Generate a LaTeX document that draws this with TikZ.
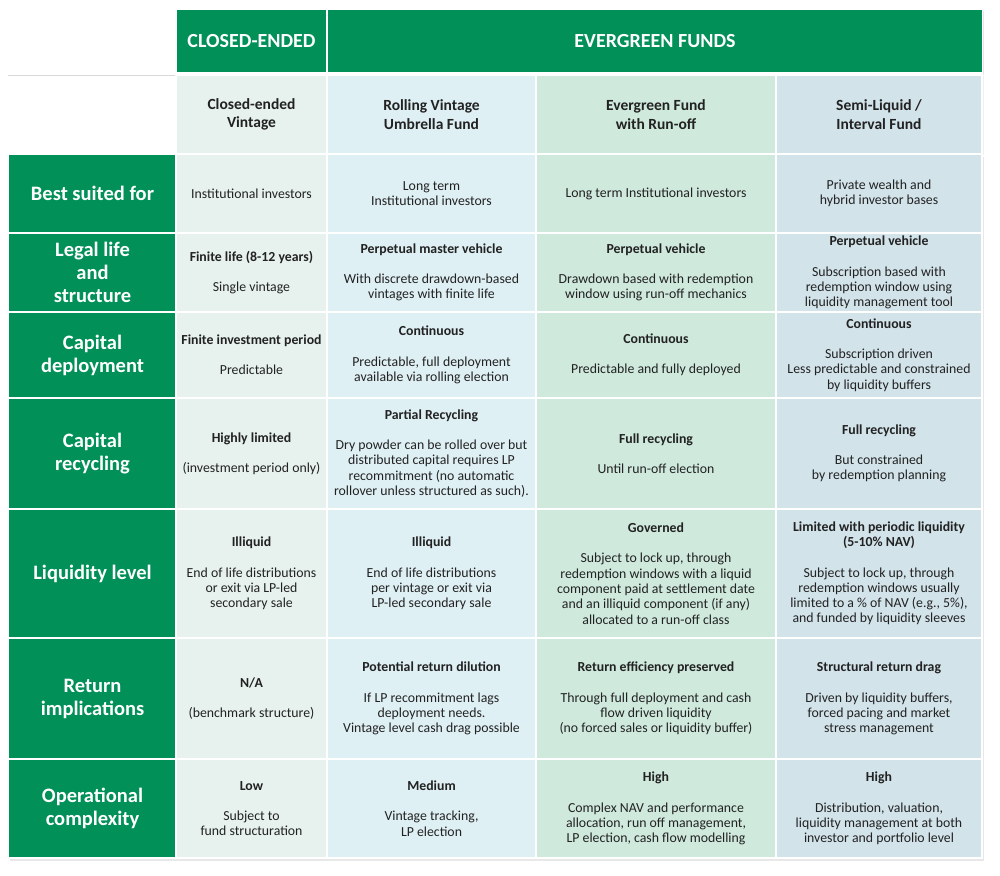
\documentclass[tikz,border=0pt]{standalone}
\usepackage{fontspec}
\setmainfont{Carlito}
\usepackage{tikz}
\usetikzlibrary{shadows}

\definecolor{evgreen}{HTML}{009058}
\definecolor{colA}{HTML}{E7F2EF}
\definecolor{colB}{HTML}{DFF0F5}
\definecolor{colC}{HTML}{CFE9DD}
\definecolor{colD}{HTML}{D2E3EA}
\definecolor{ink}{HTML}{222222}

\tikzset{
  cell/.style={draw=white, line width=1.5pt, inner sep=0pt, align=center, text=ink,
    font=\fontsize{13.8}{15.3}\selectfont},
  tophd/.style={cell, fill=evgreen, text=white, minimum height=64pt,
    font=\bfseries\fontsize{20}{24}\selectfont,
    drop shadow={opacity=0.2, shadow xshift=1.5pt, shadow yshift=-2pt}},
  rowlbl/.style={cell, fill=evgreen, text=white, minimum width=169pt,
    font=\bfseries\fontsize{20.5}{23}\selectfont},
  fundhd/.style={font=\bfseries\fontsize{15.5}{18.5}\selectfont, minimum height=79pt},
  cA/.style={cell, fill=colA, minimum width=151pt},
  cB/.style={cell, fill=colB, minimum width=209pt},
  cC/.style={cell, fill=colC, minimum width=240pt},
  cD/.style={cell, fill=colD, minimum width=206pt},
  rbest/.style={minimum height=79pt},
  rlegal/.style={minimum height=79pt},
  rdeploy/.style={minimum height=86pt},
  rrecycle/.style={minimum height=111pt},
  rliquid/.style={minimum height=129pt},
  rreturn/.style={minimum height=121pt},
  roper/.style={minimum height=99pt},
}
\newcommand{\gap}{\\[15pt]}

\begin{document}
\begin{tikzpicture}[x=1pt,y=-1pt]
\useasboundingbox (0,0) rectangle (1000,875);

% table background and shadow
\path[fill=white, drop shadow={opacity=0.18, shadow xshift=2pt, shadow yshift=-3pt}] (8,154) rectangle (982,858);
\path[fill=white, drop shadow={opacity=0.12, shadow xshift=2pt, shadow yshift=-1pt}] (176,75) rectangle (982,154);
\draw[black!15, line width=1pt] (8,75) -- (176,75);

% top headers
\node[tophd, minimum width=151pt] (hdClosed) at (251.5,41) {CLOSED-ENDED};
\node[tophd, minimum width=655pt] (hdEver) at (655,41) {EVERGREEN FUNDS};

% fund types
\node[cA, fundhd] (sub1) at (251.5,114.5) {Closed-ended\\Vintage};
\node[cB, fundhd] (sub2) at (431.5,114.5) {Rolling Vintage\\Umbrella Fund};
\node[cC, fundhd] (sub3) at (656,114.5) {Evergreen Fund\\with Run-off};
\node[cD, fundhd] (sub4) at (879,114.5) {Semi-Liquid /\\Interval Fund};

% row labels
\node[rowlbl, rbest] (lbl1) at (92.5,193.5) {Best suited for};
\node[rowlbl, rlegal] (lbl2) at (92.5,272.5) {Legal life\\and\\structure};
\node[rowlbl, rdeploy] (lbl3) at (92.5,355) {Capital\\deployment};
\node[rowlbl, rrecycle] (lbl4) at (92.5,453.5) {Capital\\recycling};
\node[rowlbl, rliquid] (lbl5) at (92.5,573.5) {Liquidity level};
\node[rowlbl, rreturn] (lbl6) at (92.5,698.5) {Return\\implications};
\node[rowlbl, roper] (lbl7) at (92.5,808.5) {Operational\\complexity};

% best suited for
\node[cA, rbest] (best1) at (251.5,193.5) {Institutional investors};
\node[cB, rbest] (best2) at (431.5,193.5) {Long term\\Institutional investors};
\node[cC, rbest] (best3) at (656,193.5) {Long term Institutional investors};
\node[cD, rbest] (best4) at (879,193.5) {Private wealth and\\hybrid investor bases};

% legal life and structure
\node[cA, rlegal] (legal1) at (251.5,272.5) {\textbf{Finite life (8-12 years)}\gap Single vintage};
\node[cB, rlegal] (legal2) at (431.5,272.5) {\textbf{Perpetual master vehicle}\gap With discrete drawdown-based\\vintages with finite life};
\node[cC, rlegal] (legal3) at (656,272.5) {\textbf{Perpetual vehicle}\gap Drawdown based with redemption\\window using run-off mechanics};
\node[cD, rlegal] (legal4) at (879,272.5) {\textbf{Perpetual vehicle}\gap Subscription based with\\redemption window using\\liquidity management tool};

% capital deployment
\node[cA, rdeploy] (deploy1) at (251.5,355) {\textbf{Finite investment period}\gap Predictable};
\node[cB, rdeploy] (deploy2) at (431.5,355) {\textbf{Continuous}\gap Predictable, full deployment\\available via rolling election};
\node[cC, rdeploy] (deploy3) at (656,355) {\textbf{Continuous}\gap Predictable and fully deployed};
\node[cD, rdeploy] (deploy4) at (879,355) {\textbf{Continuous}\gap Subscription driven\\Less predictable and constrained\\by liquidity buffers};

% capital recycling
\node[cA, rrecycle] (recycle1) at (251.5,453.5) {\textbf{Highly limited}\gap (investment period only)};
\node[cB, rrecycle] (recycle2) at (431.5,453.5) {\textbf{Partial Recycling}\gap Dry powder can be rolled over but\\distributed capital requires LP\\recommitment (no automatic\\rollover unless structured as such).};
\node[cC, rrecycle] (recycle3) at (656,453.5) {\textbf{Full recycling}\gap Until run-off election};
\node[cD, rrecycle] (recycle4) at (879,453.5) {\textbf{Full recycling}\gap But constrained\\by redemption planning};

% liquidity level
\node[cA, rliquid] (liquid1) at (251.5,573.5) {\textbf{Illiquid}\gap End of life distributions\\or exit via LP-led\\secondary sale};
\node[cB, rliquid] (liquid2) at (431.5,573.5) {\textbf{Illiquid}\gap End of life distributions\\per vintage or exit via\\LP-led secondary sale};
\node[cC, rliquid] (liquid3) at (656,573.5) {\textbf{Governed}\gap Subject to lock up, through\\redemption windows with a liquid\\component paid at settlement date\\and an illiquid component (if any)\\allocated to a run-off class};
\node[cD, rliquid] (liquid4) at (879,573.5) {\textbf{Limited with periodic liquidity}\\\textbf{(5-10\% NAV)}\gap Subject to lock up, through\\redemption windows usually\\limited to a \% of NAV (e.g., 5\%),\\and funded by liquidity sleeves};

% return implications
\node[cA, rreturn] (return1) at (251.5,698.5) {\textbf{N/A}\gap (benchmark structure)};
\node[cB, rreturn] (return2) at (431.5,698.5) {\textbf{Potential return dilution}\gap If LP recommitment lags\\deployment needs.\\Vintage level cash drag possible};
\node[cC, rreturn] (return3) at (656,698.5) {\textbf{Return efficiency preserved}\gap Through full deployment and cash\\flow driven liquidity\\(no forced sales or liquidity buffer)};
\node[cD, rreturn] (return4) at (879,698.5) {\textbf{Structural return drag}\gap Driven by liquidity buffers,\\forced pacing and market\\stress management};

% operational complexity
\node[cA, roper] (oper1) at (251.5,808.5) {\textbf{Low}\gap Subject to\\fund structuration};
\node[cB, roper] (oper2) at (431.5,808.5) {\textbf{Medium}\gap Vintage tracking,\\LP election};
\node[cC, roper] (oper3) at (656,808.5) {\textbf{High}\gap Complex NAV and performance\\allocation, run off management,\\LP election, cash flow modelling};
\node[cD, roper] (oper4) at (879,808.5) {\textbf{High}\gap Distribution, valuation,\\liquidity management at both\\investor and portfolio level};
\end{tikzpicture}
\end{document}
